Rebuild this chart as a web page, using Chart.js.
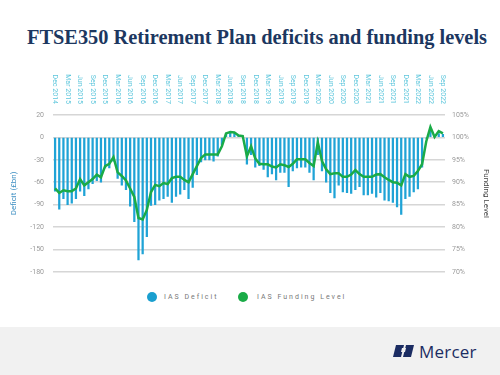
<!DOCTYPE html>
<html>
<head>
<meta charset="utf-8">
<script src="https://cdn.jsdelivr.net/npm/chart.js@4"></script>
<style>
  html, body { margin: 0; padding: 0; background: #fff; }
  body { width: 500px; height: 375px; position: relative; overflow: hidden; font-family: Roboto, sans-serif; }
  #title { position: absolute; left: 27px; top: 26px; white-space: nowrap; font-family: "Liberation Serif", "DejaVu Serif", serif; font-weight: bold; font-size: 21px; color: #1c3760; }
  #wrap { position: absolute; left: 0; top: 0; width: 500px; height: 285px; }
  #legend { position: absolute; top: 291px; left: 0; width: 500px; height: 14px; font-size: 7px; color: #777; letter-spacing: 2px; }
  .item { position: absolute; top: 0; line-height: 12px; }
  .dot { position: absolute; top: 1px; width: 10px; height: 10px; border-radius: 50%; }
  #footer { position: absolute; left: 0; top: 327px; width: 500px; height: 48px; background: #f1f1f1; }
  #logo { position: absolute; left: 393px; top: 14px; height: 20px; }
  #logo span { position: absolute; left: 26px; top: -1px; font-family: "Open Sans", Roboto, sans-serif; font-size: 17px; color: #1b2c62; letter-spacing: 0.2px; }
</style>
</head>
<body>
<div id="title">FTSE350 Retirement Plan deficits and funding levels</div>
<div id="wrap"><canvas id="chart" width="500" height="285"></canvas></div>
<div id="legend">
  <div class="dot" style="left:147px;background:#1a9fcf"></div>
  <div class="item" style="left:164px">IAS Deficit</div>
  <div class="dot" style="left:238px;background:#1aab47"></div>
  <div class="item" style="left:257px">IAS Funding Level</div>
</div>
<div id="footer">
  <div id="logo">
    <svg width="24" height="16" viewBox="0 0 24 16" style="position:absolute;left:0;top:2px">
      <path d="M3 2 L11 2 L8 14 L0 14 Z" fill="#1b2c62"/>
      <path d="M13 2 L21 2 L18 14 L10 14 Z" fill="#1b2c62"/>
      <path d="M9 5 L13 5 L12 9 L8 9 Z" fill="#f1f1f1"/>
    </svg>
    <span>Mercer</span>
  </div>
</div>
<script>
// fit title to reference width
(function () {
  const t = document.getElementById('title');
  const w = t.offsetWidth;
  t.style.fontSize = (21 * 460 / w).toFixed(2) + 'px';
})();

const months = [
  'Dec 2014',
  'Jan 2015', 'Feb 2015', 'Mar 2015', 'Apr 2015', 'May 2015', 'Jun 2015', 'Jul 2015', 'Aug 2015', 'Sep 2015', 'Oct 2015', 'Nov 2015', 'Dec 2015',
  'Jan 2016', 'Feb 2016', 'Mar 2016', 'Apr 2016', 'May 2016', 'Jun 2016', 'Jul 2016', 'Aug 2016', 'Sep 2016', 'Oct 2016', 'Nov 2016', 'Dec 2016',
  'Jan 2017', 'Feb 2017', 'Mar 2017', 'Apr 2017', 'May 2017', 'Jun 2017', 'Jul 2017', 'Aug 2017', 'Sep 2017', 'Oct 2017', 'Nov 2017', 'Dec 2017',
  'Jan 2018', 'Feb 2018', 'Mar 2018', 'Apr 2018', 'May 2018', 'Jun 2018', 'Jul 2018', 'Aug 2018', 'Sep 2018', 'Oct 2018', 'Nov 2018', 'Dec 2018',
  'Jan 2019', 'Feb 2019', 'Mar 2019', 'Apr 2019', 'May 2019', 'Jun 2019', 'Jul 2019', 'Aug 2019', 'Sep 2019', 'Oct 2019', 'Nov 2019', 'Dec 2019',
  'Jan 2020', 'Feb 2020', 'Mar 2020', 'Apr 2020', 'May 2020', 'Jun 2020', 'Jul 2020', 'Aug 2020', 'Sep 2020', 'Oct 2020', 'Nov 2020', 'Dec 2020',
  'Jan 2021', 'Feb 2021', 'Mar 2021', 'Apr 2021', 'May 2021', 'Jun 2021', 'Jul 2021', 'Aug 2021', 'Sep 2021', 'Oct 2021', 'Nov 2021', 'Dec 2021',
  'Jan 2022', 'Feb 2022', 'Mar 2022', 'Apr 2022', 'May 2022', 'Jun 2022', 'Jul 2022', 'Aug 2022', 'Sep 2022'
];

// IAS deficit, £bn
const deficit = [
  -72,
  -96, -82, -90, -88, -82, -72, -78, -69, -62, -58, -60, -41,
  -41, -32, -55, -64, -70, -92, -113, -164, -156, -133, -91, -90,
  -84, -82, -79, -87, -79, -76, -70, -82, -67, -50, -33, -30,
  -30, -32, -25, -10, 5, 7, 6, 2, 1, -36, -23, -40,
  -38, -43, -53, -49, -57, -47, -47, -66, -45, -41, -40, -40,
  -47, -57, -23, -45, -60, -74, -81, -64, -73, -74, -75, -70,
  -66, -77, -77, -75, -80, -74, -84, -85, -87, -93, -103, -82,
  -79, -73, -69, -40, -1, 8, 1, 5, 4
];

// IAS funding level, %
const funding = [
  88.6,
  87.6, 88.2, 88.0, 88.0, 88.6, 90.7, 89.3, 90.0, 90.7, 91.7, 91.1, 93.6,
  94.1, 95.6, 92.2, 91.4, 90.4, 88.6, 86.7, 82.0, 81.7, 83.8, 87.8, 89.4,
  89.1, 89.8, 89.6, 90.9, 91.2, 91.2, 90.5, 90.0, 91.8, 93.6, 95.4, 96.2,
  96.2, 96.2, 96.2, 98.0, 100.9, 101.2, 101.1, 100.4, 100.3, 95.8, 98.0, 95.3,
  94.1, 94.0, 94.0, 93.5, 93.3, 94.0, 93.8, 93.4, 94.1, 95.1, 95.1, 95.1,
  94.3, 93.6, 98.9, 94.7, 92.9, 91.8, 92.0, 92.0, 91.2, 91.2, 91.7, 92.7,
  91.8, 91.2, 91.2, 91.2, 91.7, 91.8, 91.1, 90.5, 90.0, 89.9, 89.3, 91.8,
  91.2, 91.4, 92.5, 94.0, 99.1, 102.3, 100.1, 101.4, 100.9
];

const deficitTicks = ['-180', '-150', '-120', '-90', '-60', '-30', '0', '20'];

// quarterly month labels drawn rotated clockwise above the plot
const topLabels = {
  id: 'topLabels',
  afterDraw(chart) {
    const ctx = chart.ctx;
    const x = chart.scales.x;
    ctx.save();
    ctx.font = '7px Roboto';
    ctx.fillStyle = '#5cc6dc';
    ctx.textAlign = 'right';
    ctx.textBaseline = 'middle';
    x.ticks.forEach((t, i) => {
      if (i % 3) return;
      ctx.save();
      ctx.translate(x.getPixelForTick(i), 104);
      ctx.rotate(Math.PI / 2);
      ctx.fillText(x.getLabelForValue(t.value), 0, 0);
      ctx.restore();
    });
    ctx.restore();
  }
};

new Chart(document.getElementById('chart'), {
  type: 'bar',
  data: {
    labels: months,
    datasets: [
      {
        type: 'line',
        label: 'IAS Funding Level',
        data: funding,
        yAxisID: 'y1',
        borderColor: '#1aab47',
        borderWidth: 2.5,
        pointRadius: 0,
        tension: 0,
        order: 0
      },
      {
        label: 'IAS Deficit',
        data: deficit,
        yAxisID: 'y',
        backgroundColor: '#1fa3d6',
        barThickness: 1.6,
        order: 1
      }
    ]
  },
  options: {
    responsive: false,
    animation: false,
    layout: { padding: { left: 0, right: 0, top: 0, bottom: 10 } },
    plugins: {
      legend: { display: false },
      tooltip: { enabled: false }
    },
    scales: {
      x: {
        position: 'top',
        grid: { display: false },
        border: { display: false },
        ticks: { display: false, autoSkip: false },
        afterFit: s => { s.height = 115; }
      },
      y: {
        position: 'left',
        min: -180,
        max: 30,
        border: { display: false },
        grid: { color: '#d6d6d6', lineWidth: 1.5, drawTicks: false },
        ticks: {
          stepSize: 30,
          padding: 9,
          color: '#9a9a9a',
          font: { size: 7, family: 'Roboto' },
          callback: (v, i) => deficitTicks[i]
        },
        title: {
          display: true,
          text: 'Deficit (£bn)',
          color: '#3d8fc2',
          font: { size: 8, family: 'Roboto' },
          padding: { top: 9, bottom: 0 }
        },
        afterFit: s => { s.width = 53; }
      },
      y1: {
        position: 'right',
        min: 70,
        max: 105,
        border: { display: false },
        grid: { display: false, drawTicks: false },
        ticks: {
          stepSize: 5,
          padding: 7,
          color: '#9a9a9a',
          font: { size: 7, family: 'Roboto' },
          callback: v => v + '%'
        },
        title: {
          display: true,
          text: 'Funding Level',
          color: '#444',
          font: { size: 8, family: 'Roboto' },
          padding: { top: 9, bottom: 0 }
        },
        afterFit: s => { s.width = 55; }
      }
    }
  },
  plugins: [topLabels]
});
</script>
</body>
</html>
